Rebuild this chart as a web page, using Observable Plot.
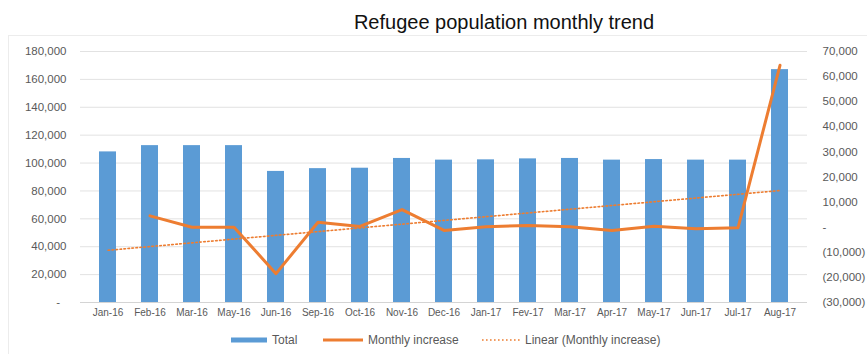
<!DOCTYPE html>
<html><head><meta charset="utf-8">
<script src="https://cdn.jsdelivr.net/npm/d3@7"></script>
<script src="https://cdn.jsdelivr.net/npm/@observablehq/plot@0.6"></script>
<style>
body{margin:0;background:#fff;font-family:"Liberation Sans",Arial,sans-serif;}
#wrap{position:relative;width:867px;height:354px;overflow:hidden;}
#frame{position:absolute;left:8px;top:35px;width:900px;height:400px;border:1px solid #ececec;box-sizing:border-box;}
#title{position:absolute;left:504px;top:10px;transform:translateX(-50%);white-space:nowrap;font-size:20px;line-height:24px;color:#111;}
#chart{position:absolute;left:0;top:36px;}
.leg{position:absolute;top:333px;height:14px;display:flex;align-items:center;font-size:12px;color:#595959;white-space:nowrap;}
.leg svg{margin-right:5px;}
</style>
</head><body>
<div id="wrap">
  <div id="frame"></div>
  <div id="title">Refugee population monthly trend</div>
  <div id="chart"></div>
  <div class="leg" style="left:231px"><svg width="36" height="6"><rect x="0" y="0.5" width="36" height="5" fill="#5B9BD5"/></svg>Total</div>
  <div class="leg" style="left:323px"><svg width="40" height="6"><line x1="0" x2="40" y1="3" y2="3" stroke="#ED7D31" stroke-width="3"/></svg>Monthly increase</div>
  <div class="leg" style="left:482px"><svg width="38" height="6"><line x1="0" x2="38" y1="3" y2="3" stroke="#ED7D31" stroke-width="1.6" stroke-dasharray="1.6,2.4"/></svg>Linear (Monthly increase)</div>
</div>
<script>
const months = ["Jan-16","Feb-16","Mar-16","May-16","Jun-16","Sep-16","Oct-16","Nov-16","Dec-16","Jan-17","Fev-17","Mar-17","Apr-17","May-17","Jun-17","Jul-17","Aug-17"];
const total = [108000,112500,112500,112500,94000,96000,96300,103300,102100,102300,103000,103300,102100,102500,102100,102100,167000];
const monthlyIncrease = [null,4500,0,0,-18500,2000,300,7000,-1300,200,700,200,-1300,400,-650,-250,64500];
const trendMonths = ["Jan-16","Aug-17"];
const trendValues = [-9200,14600];
const leftTicks = [0,20000,40000,60000,80000,100000,120000,140000,160000,180000];
const rightTicks = [-30000,-20000,-10000,0,10000,20000,30000,40000,50000,60000,70000];

// secondary axis (-30,000..70,000) mapped onto primary (0..180,000)
const toLeft = v => (v + 30000) * 1.8;
const fromLeft = v => Math.round(v / 1.8 - 30000);
const f = d3.format(",");
const fmt = v => v === 0 ? "-" : v < 0 ? `(${f(-v)})` : f(v);

const data = months.map((m, i) => ({month: m, total: total[i], inc: monthlyIncrease[i]}));
const incData = data.filter(d => d.inc != null);
const trend = trendMonths.map((m, i) => ({month: m, v: trendValues[i]}));

const chart = Plot.plot({
  width: 867,
  height: 290,
  marginLeft: 80,
  marginRight: 60,
  marginTop: 15,
  marginBottom: 24,
  style: {fontFamily: "Liberation Sans, Arial, sans-serif", fontSize: "11px", color: "#595959", background: "transparent"},
  x: {domain: months, paddingInner: 0.6, paddingOuter: 0.3, label: null},
  y: {domain: [0, 180000], label: null},
  marks: [
    Plot.gridY(leftTicks, {stroke: "#e2e2e2", strokeOpacity: 1}),
    Plot.ruleY([0], {stroke: "#d4d4d4"}),
    Plot.barY(data, {x: "month", y: "total", fill: "#5B9BD5"}),
    Plot.line(trend, {x: "month", y: d => toLeft(d.v), stroke: "#ED7D31", strokeWidth: 1.6, strokeDasharray: "1.6,2.4"}),
    Plot.line(incData, {x: "month", y: d => toLeft(d.inc), stroke: "#ED7D31", strokeWidth: 3, strokeLinejoin: "round", strokeLinecap: "round"}),
    Plot.axisY({anchor: "left", ticks: leftTicks, tickFormat: v => v === 0 ? "-\u2007" : fmt(v), tickSize: 0, tickPadding: 14, fontSize: 11.5, label: null}),
    Plot.axisY({anchor: "right", ticks: rightTicks.map(toLeft), tickFormat: v => fmt(fromLeft(v)), tickSize: 0, tickPadding: 15, textAnchor: "start", fontSize: 11.5, label: null}),
    Plot.axisX({tickSize: 0, tickPadding: 6, fontSize: 10, label: null})
  ]
});
document.getElementById("chart").appendChild(chart);
</script>
</body></html>
